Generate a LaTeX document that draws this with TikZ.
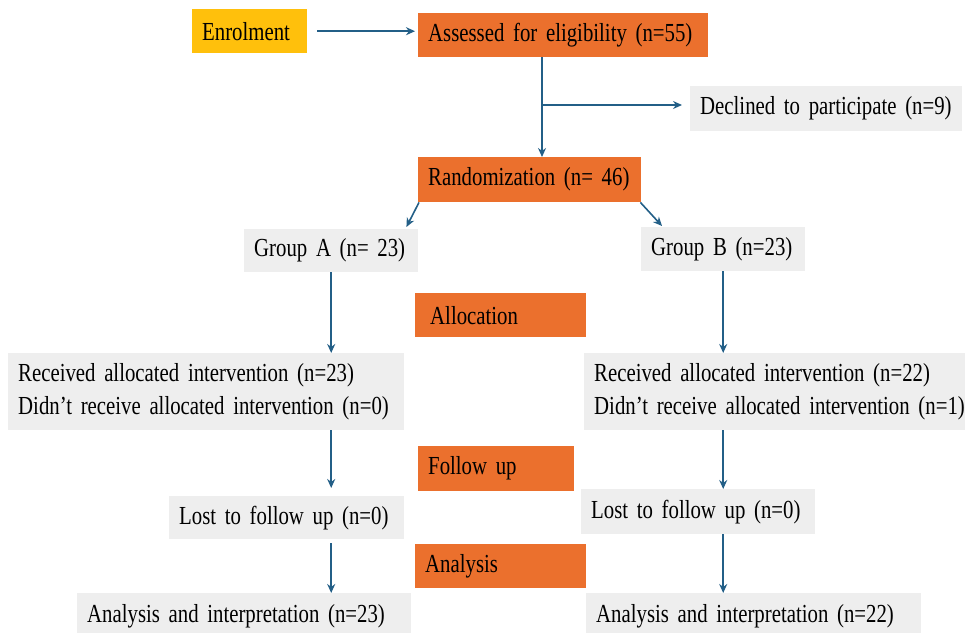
\documentclass[tikz,border=0pt]{standalone}
\usepackage{fontspec}
\setmainfont{Liberation Serif}[FakeStretch=0.8]
\usepackage{tikz}
\usetikzlibrary{arrows.meta,positioning,calc}

\definecolor{stageorange}{RGB}{235,112,45}
\definecolor{enrolyellow}{RGB}{255,192,12}
\definecolor{infogray}{RGB}{238,238,238}
\definecolor{flowblue}{RGB}{35,95,135}

\newcommand{\flowfont}{\fontsize{26}{33}\selectfont\spaceskip=4pt\relax}

\begin{document}
\begin{tikzpicture}[
  x=1pt, y=-1pt,
  box/.style={anchor=north west, inner xsep=10pt, inner ysep=0pt, align=left, font=\flowfont},
  stage/.style={box, fill=stageorange},
  enrolbox/.style={box, fill=enrolyellow},
  info/.style={box, fill=infogray},
  arrow/.style={-{Stealth[length=9pt,width=8pt]}, draw=flowblue, fill=flowblue, line width=1.6pt}
]
\useasboundingbox (0,0) rectangle (965,632);
\clip (0,0) rectangle (965,632);

\node[enrolbox, text width=95pt,  minimum height=44pt] (enrol)  at (192,9)   {Enrolment};
\node[stage,    text width=270pt, minimum height=44pt] (assess) at (418,13)  {Assessed for eligibility (n=55)};
\node[info,     text width=252pt, minimum height=45pt] (decl)   at (690,86)  {Declined to participate (n=9)};
\node[stage,    text width=203pt, minimum height=45pt] (random) at (418,157) {Randomization (n= 46)};

\node[info, text width=154pt, minimum height=43pt] (groupA) at (244,229) {Group A (n= 23)};
\node[info, text width=144pt, minimum height=44pt] (groupB) at (641,227) {Group B (n=23)};

\node[stage, text width=151pt, minimum height=44pt] (alloc) at (415,293) {\hspace*{5pt}Allocation};

\node[info, text width=376pt, minimum height=77pt] (recvA) at (8,353)
  {Received allocated intervention (n=23)\\Didn't receive allocated intervention (n=0)};
\node[info, text width=375pt, minimum height=77pt] (recvB) at (584,353)
  {Received allocated intervention (n=22)\\Didn't receive allocated intervention (n=1)};

\node[stage, text width=136pt, minimum height=45pt] (follow) at (418,446) {Follow up};

\node[info, text width=215pt, minimum height=43pt] (lostA) at (169,496) {Lost to follow up (n=0)};
\node[info, text width=214pt, minimum height=45pt] (lostB) at (581,489) {Lost to follow up (n=0)};

\node[stage, text width=151pt, minimum height=44pt] (analysis) at (415,544) {Analysis};

\node[info, text width=314pt, minimum height=46pt] (finalA) at (77,593)  {Analysis and interpretation (n=23)};
\node[info, text width=315pt, minimum height=46pt] (finalB) at (586,593) {Analysis and interpretation (n=22)};

% enrolment and eligibility
\coordinate (split) at (542,105);
\draw[arrow, shorten <=10pt, shorten >=3pt] (enrol.east) -- (enrol.east -| assess.west);
\draw[arrow] (split |- assess.south) -- (split |- random.north);
\draw[arrow, shorten >=8pt] (split) -- (split -| decl.west);

% randomization into groups
\draw[arrow] ($(random.south west)+(1,0)$) -- ($(groupA.north east)+(-12,-2)$);
\draw[arrow] ($(random.south east)+(-1,0)$) -- ($(groupB.north west)+(21,-1)$);

% group A
\draw[arrow] (groupA.south) -- (groupA.south |- recvA.north);
\draw[arrow, shorten >=8pt] (groupA.south |- recvA.south) -- (groupA.south |- lostA.north);
\draw[arrow, shorten <=4pt] (groupA.south |- lostA.south) -- (groupA.south |- finalA.north);

% group B
\draw[arrow] (groupB.south) -- (groupB.south |- recvB.north);
\draw[arrow] (groupB.south |- recvB.south) -- (groupB.south |- lostB.north);
\draw[arrow] (groupB.south |- lostB.south) -- (groupB.south |- finalB.north);
\end{tikzpicture}
\end{document}
